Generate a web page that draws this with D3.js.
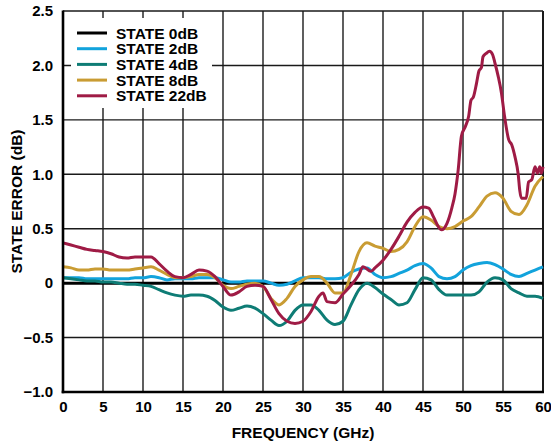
<!DOCTYPE html>
<html><head><meta charset="utf-8">
<script src="https://cdn.jsdelivr.net/npm/d3@7"></script>
<style>
html,body{margin:0;padding:0;background:#fff;}
svg text{font-family:"Liberation Sans",Arial,Helvetica,sans-serif;font-weight:bold;fill:#000;}
</style></head>
<body><svg id="c" width="551" height="446"></svg>
<script>
// ---- data ----
const freq = [0,1,2,3,4,5,6,7,8,9,10,11,12,13,14,15,16,17,18,19,20,21,22,23,24,25,26,27,28,29,30,31,32,33,34,35,36,37,38,39,40,41,42,43,44,45,46,47,48,49,50,51,52,53,54,55,56,57,58,59,60];
const state0 = [0,0,0,0,0,0,0,0,0,0,0,0,0,0,0,0,0,0,0,0,0,0,0,0,0,0,0,0,0,0,0,0,0,0,0,0,0,0,0,0,0,0,0,0,0,0,0,0,0,0,0,0,0,0,0,0,0,0,0,0,0];
const state2 = [0.05,0.05,0.05,0.04,0.04,0.04,0.04,0.04,0.04,0.05,0.05,0.06,0.05,0.03,0.04,0.04,0.04,0.05,0.05,0.05,0.03,0.01,0.01,0.02,0.02,0.02,0.00,-0.02,-0.01,0.02,0.05,0.05,0.05,0.04,0.04,0.05,0.10,0.13,0.14,0.08,0.05,0.06,0.09,0.12,0.16,0.18,0.14,0.06,0.04,0.06,0.12,0.16,0.18,0.19,0.17,0.13,0.08,0.06,0.09,0.12,0.15];
const state4 = [0.05,0.04,0.03,0.02,0.02,0.01,0.01,0.00,-0.01,-0.01,-0.02,-0.03,-0.06,-0.09,-0.11,-0.12,-0.11,-0.11,-0.12,-0.16,-0.22,-0.25,-0.23,-0.21,-0.23,-0.28,-0.34,-0.39,-0.35,-0.25,-0.20,-0.20,-0.25,-0.34,-0.38,-0.35,-0.20,-0.06,0.00,-0.04,-0.10,-0.15,-0.20,-0.18,-0.06,0.05,0.03,-0.06,-0.11,-0.11,-0.11,-0.11,-0.08,0.01,0.05,0.03,-0.05,-0.09,-0.12,-0.12,-0.14];
const state8 = [0.15,0.14,0.12,0.12,0.13,0.13,0.12,0.12,0.12,0.13,0.14,0.15,0.12,0.08,0.05,0.05,0.06,0.08,0.08,0.05,-0.02,-0.05,-0.03,-0.01,0.00,-0.03,-0.14,-0.20,-0.14,-0.03,0.03,0.06,0.06,0.00,-0.09,-0.09,0.08,0.29,0.37,0.34,0.32,0.29,0.31,0.38,0.52,0.61,0.58,0.52,0.50,0.52,0.57,0.61,0.70,0.80,0.83,0.78,0.66,0.63,0.72,0.89,0.98];
const freq22 = [0,1,2,3,4,5,6,7,8,9,10,11,12,13,14,15,16,17,18,19,20,21,22,23,24,25,26,27,28,29,30,31,32,32.5,33,34,35,36,37,37.5,38.5,39,40,41,42,43,44,45,45.7,46.3,47.3,48,48.6,49,49.4,49.8,50.3,50.7,51,51.3,51.7,52,52.3,52.5,52.9,53.3,53.7,54,54.4,54.8,55.2,55.7,56.1,56.5,56.9,57.1,57.3,57.9,58.2,58.6,59,59.3,59.6,59.8,60];
const state22 = [0.37,0.35,0.33,0.31,0.30,0.29,0.27,0.24,0.23,0.24,0.24,0.24,0.18,0.11,0.06,0.05,0.08,0.12,0.11,0.06,-0.03,-0.11,-0.08,-0.03,-0.02,-0.03,-0.15,-0.28,-0.35,-0.37,-0.35,-0.26,-0.12,-0.09,-0.17,-0.18,-0.10,-0.02,0.08,0.15,0.11,0.14,0.21,0.31,0.43,0.56,0.65,0.70,0.69,0.61,0.49,0.55,0.69,0.82,1.04,1.35,1.44,1.53,1.68,1.71,1.84,1.95,1.98,2.08,2.11,2.13,2.10,2.02,1.90,1.75,1.53,1.32,1.27,1.16,1.00,0.85,0.78,0.78,0.93,0.95,1.07,1.01,1.07,1.01,1.07];
const seriesNames = ["STATE 0dB","STATE 2dB","STATE 4dB","STATE 8dB","STATE 22dB"];
const seriesColors = ["#000000","#12A3DC","#0E7C75","#C99C33","#9F1B45"];
const xTicks = [0,5,10,15,20,25,30,35,40,45,50,55,60];
const yTicks = [-1.0,-0.5,0,0.5,1.0,1.5,2.0,2.5];
const yTickLabels = ["\u22121.0","\u22120.5","0","0.5","1.0","1.5","2.0","2.5"];
const xTitle = "FREQUENCY (GHz)";
const yTitle = "STATE ERROR (dB)";

// ---- layout ----
const W = 551, H = 446;
const m = {l:63, r:8, t:11, b:54};
const pw = W - m.l - m.r, ph = H - m.t - m.b;
const svg = d3.select("#c");
const x = d3.scaleLinear().domain([0,60]).range([m.l, m.l + pw]);
const y = d3.scaleLinear().domain([-1,2.5]).range([m.t + ph, m.t]);

// gridlines
const g = svg.append("g");
g.selectAll(".vg").data(xTicks.slice(1,-1)).enter().append("line")
  .attr("x1", d=>x(d)).attr("x2", d=>x(d)).attr("y1", m.t).attr("y2", m.t+ph)
  .attr("stroke","#1a1a1a").attr("stroke-width",1.4);
g.selectAll(".hg").data(yTicks.slice(1,-1)).enter().append("line")
  .attr("x1", m.l).attr("x2", m.l+pw).attr("y1", d=>y(d)).attr("y2", d=>y(d))
  .attr("stroke","#1a1a1a").attr("stroke-width",1.4);
// top & right border
svg.append("line").attr("x1",m.l).attr("x2",m.l+pw).attr("y1",m.t).attr("y2",m.t).attr("stroke","#1a1a1a").attr("stroke-width",1.6);
svg.append("line").attr("x1",m.l+pw).attr("x2",m.l+pw).attr("y1",m.t).attr("y2",m.t+ph).attr("stroke","#1a1a1a").attr("stroke-width",2);

// axes with d3 axis generators (labels only; no tick lines)
const xAxis = d3.axisBottom(x).tickValues(xTicks).tickSize(0).tickPadding(9).tickFormat(d3.format("d"));
const gx = svg.append("g").attr("transform",`translate(0,${m.t+ph})`).call(xAxis);
gx.select(".domain").remove();
gx.selectAll("text").attr("font-size",15).attr("font-family","Liberation Sans, Arial, sans-serif").attr("font-weight","bold").attr("fill","#000");
const yAxis = d3.axisLeft(y).tickValues(yTicks).tickSize(0).tickPadding(10).tickFormat((d,i)=>yTickLabels[i]);
const gy = svg.append("g").attr("transform",`translate(${m.l},0)`).call(yAxis);
gy.select(".domain").remove();
gy.selectAll("text").attr("font-size",15).attr("font-family","Liberation Sans, Arial, sans-serif").attr("font-weight","bold").attr("fill","#000");

// legend box (white, covers grid)
const lg = svg.append("g");
lg.append("rect").attr("x",71).attr("y",18).attr("width",141).attr("height",90).attr("fill","#fff");

// lines
const allSeries = [
  {f:freq, v:state0},
  {f:freq, v:state2},
  {f:freq, v:state4},
  {f:freq, v:state8},
  {f:freq22, v:state22}
];
const line = d3.line().x(d=>x(d[0])).y(d=>y(d[1])).curve(d3.curveMonotoneX);
allSeries.forEach((s,i)=>{
  svg.append("path").datum(s.f.map((f,j)=>[f,s.v[j]]))
    .attr("d", line).attr("fill","none")
    .attr("stroke", seriesColors[i]).attr("stroke-width", 3)
    .attr("stroke-linejoin","round").attr("stroke-linecap","butt");
});

// left & bottom axis lines (thick)
svg.append("line").attr("x1",m.l).attr("x2",m.l).attr("y1",m.t-0.5).attr("y2",m.t+ph+1.2).attr("stroke","#000").attr("stroke-width",2.6);
svg.append("line").attr("x1",m.l-1.3).attr("x2",m.l+pw+1).attr("y1",m.t+ph).attr("y2",m.t+ph).attr("stroke","#000").attr("stroke-width",2.6);

// legend entries
seriesNames.forEach((n,i)=>{
  const yy = 33 + i*15.7;
  lg.append("line").attr("x1",77).attr("x2",107).attr("y1",yy).attr("y2",yy)
    .attr("stroke",seriesColors[i]).attr("stroke-width",3);
  lg.append("text").attr("x",116).attr("y",yy).attr("dy","0.36em")
    .attr("font-size",15.5).text(n);
});

// axis titles
svg.append("text").attr("x", m.l+pw/2).attr("y", 438).attr("text-anchor","middle").attr("font-size",15.5).text(xTitle);
svg.append("text").attr("transform",`translate(22,${m.t+ph/2}) rotate(-90)`).attr("text-anchor","middle").attr("font-size",15.5).text(yTitle);
</script></body></html>
